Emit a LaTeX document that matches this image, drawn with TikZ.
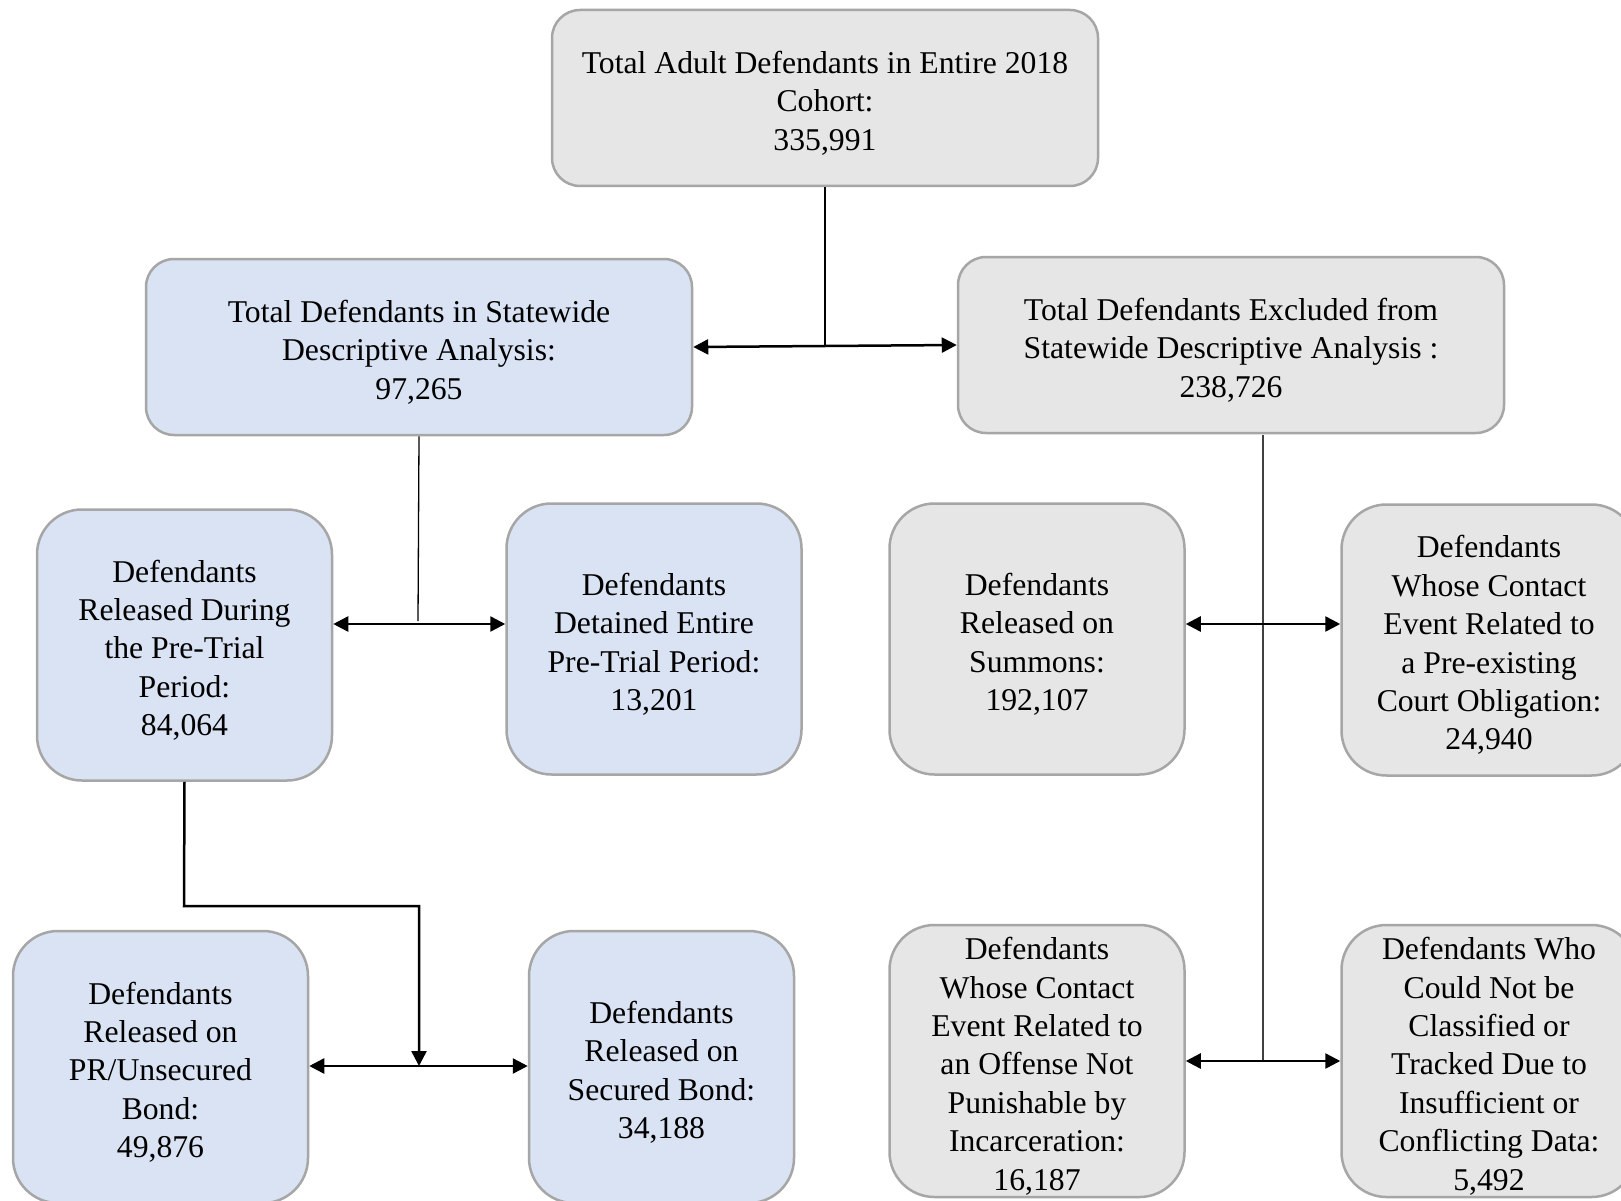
\documentclass[tikz,border=0pt]{standalone}
\usepackage{fontspec}
\setmainfont{Liberation Serif}
\usetikzlibrary{arrows.meta}
\definecolor{boxblue}{HTML}{DAE3F3}
\definecolor{boxgray}{HTML}{E6E6E6}
\definecolor{boxline}{HTML}{A6A6A6}
\definecolor{thinline}{HTML}{404040}
\tikzset{
  box/.style={draw=boxline, line width=2.5pt, rectangle, inner sep=0pt, align=center,
    font=\fontsize{31.7}{38.4}\selectfont, text=black},
  widebox/.style={box, rounded corners=28pt, minimum width=546pt, minimum height=176pt},
  tallbox/.style={box, rounded corners=45pt, minimum width=295pt, minimum height=271pt},
  bluefill/.style={fill=boxblue},
  grayfill/.style={fill=boxgray},
  conn/.style={line width=2.5pt, draw=black},
  thinconn/.style={line width=1.3pt, draw=black},
  tip/.style={-{Triangle[length=15pt,width=15pt]}},
  twotip/.style={{Triangle[length=15pt,width=15pt]}-{Triangle[length=15pt,width=15pt]}},
}
\newcommand{\topgap}{\rule{0pt}{32.5pt}}
\begin{document}
\begin{tikzpicture}[x=1pt,y=-1pt]
\useasboundingbox[fill=white] (0,0) rectangle (1621,1201);

\node[widebox, grayfill] (top) at (825,98) {\topgap Total Adult Defendants in Entire 2018\\Cohort:\\335,991};
\node[widebox, bluefill] (L1) at (419,347) {\topgap Total Defendants in Statewide\\Descriptive Analysis:\\97,265};
\node[widebox, grayfill] (R1) at (1231,345) {\topgap Total Defendants Excluded from\\Statewide Descriptive Analysis :\\238,726};

\node[tallbox, bluefill] (L2a) at (184.5,645) {\topgap Defendants\\Released During\\the Pre-Trial\\Period:\\84,064};
\node[tallbox, bluefill] (L2b) at (654,639) {\topgap Defendants\\Detained Entire\\Pre-Trial Period:\\13,201};
\node[tallbox, grayfill] (R2a) at (1037,639) {\topgap Defendants\\Released on\\Summons:\\192,107};
\node[tallbox, grayfill] (R2b) at (1489,640) {\topgap Defendants\\Whose Contact\\Event Related to\\a Pre-existing\\Court Obligation:\\24,940};

\node[tallbox, bluefill, minimum height=272pt] (L3a) at (160.5,1067) {\topgap Defendants\\Released on\\PR/Unsecured\\Bond:\\49,876};
\node[tallbox, bluefill, minimum height=272pt, minimum width=265pt] (L3b) at (661.5,1067) {\topgap Defendants\\Released on\\Secured Bond:\\34,188};
\node[tallbox, grayfill, minimum height=272pt] (R3a) at (1037,1061) {\topgap Defendants\\Whose Contact\\Event Related to\\an Offense Not\\Punishable by\\Incarceration:\\16,187};
\node[tallbox, grayfill, minimum height=272pt] (R3b) at (1489,1061) {\topgap Defendants Who\\Could Not be\\Classified or\\Tracked Due to\\Insufficient or\\Conflicting Data:\\5,492};

% top split
\draw[conn] (top.south) -- (top.south |- L1.east);
\draw[conn, twotip] (L1.east) -- (R1.west);

% left second level
\coordinate (j2) at (418,624);
\draw[thinconn] (L1.south) -- (418,621);
\draw[conn, twotip] (j2 -| L2a.east) -- (j2 -| L2b.west);

% left third level
\coordinate (b1) at (184,906);
\coordinate (b2) at (419,906);
\coordinate (j3) at (419,1066);
\draw[conn, tip] (L2a.south) -- (b1) -- (b2) -- (j3);
\draw[conn, twotip] (j3 -| L3a.east) -- (j3 -| L3b.west);

% right side
\coordinate (rtop) at (1263,435);
\coordinate (r2) at (1263,624);
\coordinate (r3) at (1263,1061);
\draw[line width=1.3pt, draw=thinline] (rtop) -- (r3);
\draw[conn, twotip] (r2 -| R2a.east) -- (r2 -| R2b.west);
\draw[conn, twotip] (r3 -| R3a.east) -- (r3 -| R3b.west);
\end{tikzpicture}
\end{document}
